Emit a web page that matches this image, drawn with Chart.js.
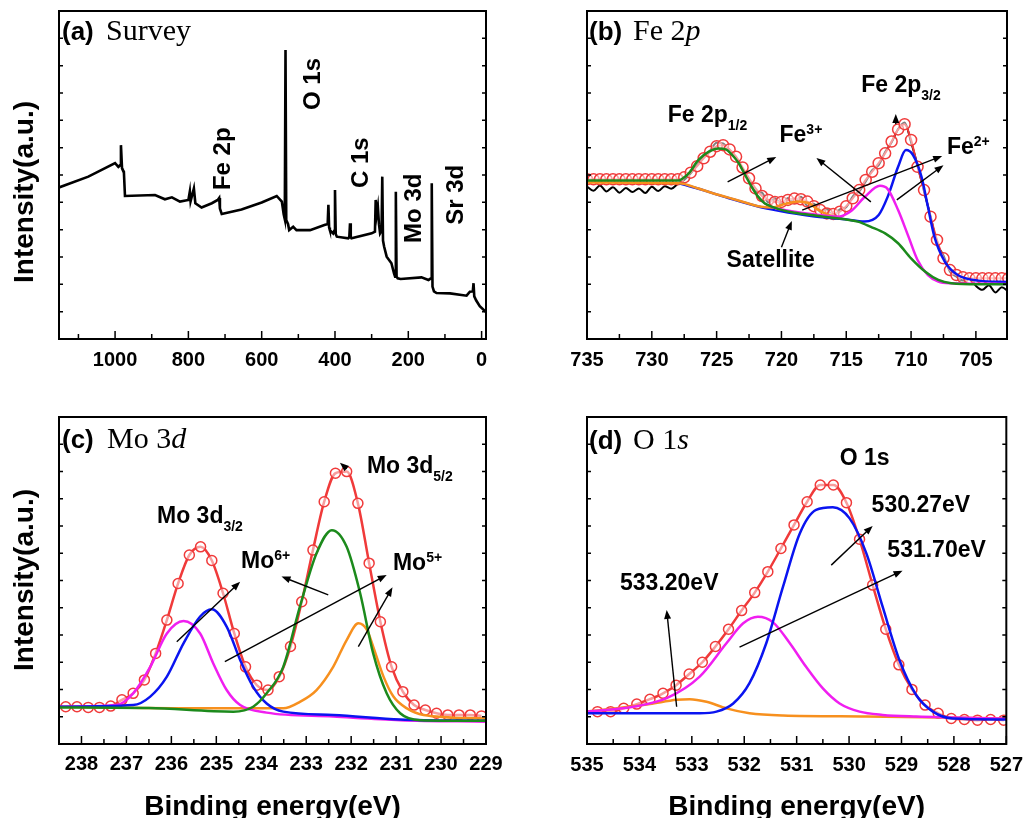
<!DOCTYPE html>
<html>
<head>
<meta charset="utf-8">
<script src="https://cdn.jsdelivr.net/npm/chart.js@4.4.0/dist/chart.umd.min.js"></script>
<style>
body { margin: 0; background: #fff; }
#wrap { position: relative; width: 1032px; height: 818px; overflow: hidden; background: #fff; }
canvas { position: absolute; }
</style>
</head>
<body>
<div id="wrap">
<canvas id="pa" width="516" height="400" style="left:0;top:0"></canvas>
<canvas id="pb" width="516" height="400" style="left:516px;top:0"></canvas>
<canvas id="pc" width="516" height="418" style="left:0;top:400px"></canvas>
<canvas id="pd" width="516" height="418" style="left:516px;top:400px"></canvas>
</div>
<script>
// (a) survey
const surveyBE = [1153,1073,1000,991,986,984,981,979,976,973,891,864,845,823,800,796,794,785,781,764,736,720,716,714,709,655,600,559,545,540,537,535,533,528,525,514,505,468,427,420,418,416,414,405,402,400,398,395,364,361,359,357,355,300,291,289,286,283,280,277,273,271,269,266,259,246,239,236,234,232,229,221,164,145,138,136,134,130,123,86,41,32,24,22,20,15,5,-12];
const surveyI = [46.2,49.5,53.6,52.5,53,59.1,52,51.5,51,43.6,43.9,42.6,43.2,41.9,42.4,45,42,45.9,41.4,40.1,41.4,42.4,43,39.8,38.1,39.5,41.6,43.6,41.9,38,36.5,88.1,36.3,35,33.2,34.2,33.2,33.2,34.8,35,40.9,34,33.2,32.2,33,45.4,32,31.2,30.7,31,35.3,31,30.7,32.2,32.7,42.4,38,40.3,35,32.2,33,49.5,30,28.2,25.1,23.1,20,19,44.9,19,18.5,18.3,18.8,18,18.5,47.5,16,14.5,14,13.9,13.2,14.4,14.5,17,13,11.8,10,8.2];

// (b) Fe 2p
const feBE = [735,734.5,734,733.5,733,732.5,732,731.5,731,730.5,730,729.5,729,728.5,728,727.5,727,726.5,726,725.5,725,724.5,724,723.5,723,722.5,722,721.5,721,720.5,720,719.5,719,718.5,718,717.5,717,716.5,716,715.5,715,714.5,714,713.5,713,712.5,712,711.5,711,710.5,710,709.5,709,708.5,708,707.5,707,706.5,706,705.5,705,704.5,704,703.5,703,702.5];
const feFit = [48.7,48.7,48.7,48.7,48.7,48.7,48.7,48.7,48.7,48.7,48.7,48.7,48.7,48.7,48.7,49.3,50.7,52.7,55.1,57.1,58.8,59.1,57.8,55.6,52.3,49,45.9,43.6,42.4,41.8,41.8,42.4,42.8,42.6,41.9,40.5,39.3,38.3,38.1,38.8,40.5,42.9,45.4,48.5,51,53.6,56.6,60.2,63.9,65.5,60.7,52.5,45.4,37.3,30.2,24.6,21,19.5,18.8,18.5,18.5,18.5,18.5,18.5,18.5,18.5];
const feRaw = [46.5,45.2,46.8,45,46.3,44.6,46,44.8,45.9,44.5,46.4,45.1,46.6,45.8,47.3,48.5,50.5,53,55.5,57.5,59.8,59.6,57,55,51.5,48.5,45,44.6,41.6,42.9,41,43,41.5,43.4,40.6,41.2,38.8,39.6,37.2,39.5,40.2,43.5,45,48,51.5,53,57,60,64,66,60,53,45,37.5,29,25.5,20.5,19,17.8,18.5,16.2,15,16.4,14.2,15.8,14.5];
const feGreenBE = [735,727.9,727.7,727.15,726.4,725.6,724.85,724.3,723.8,723.3,722.8,722.3,721.8,721.3,720.7,720.2,719,717.7,716.4,715.1,714.1,713.1,712,711,710,708.9,707.9,706.9,704.8,702.6];
const feGreenI = [48.3,48.3,48.7,50.5,54.6,57.1,58.1,57.8,56.1,53.6,50,46.4,43.4,41.4,40.3,39.6,38.5,37.8,37.1,36.5,35.8,34.2,32.2,29.2,24.6,20.5,18,17,16.7,16.7];
const feOrangeBE = [735,727.9,726.4,725.4,724.1,722.8,721.8,720.7,719.7,718.7,717.9,717.2,716.4,715.6];
const feOrangeI = [47.7,47.5,45.9,44.6,43.1,41.6,40.5,40.1,41.2,41.9,41.4,39.5,37.8,37];
const feBlueBE = [727.9,726.4,724.1,721.8,720.2,717.7,715.1,713.6,712.5,711.8,711,710.4,709.85,709.2,708.7,708.2,707.4,706.4,704.8,702.6];
const feBlueI = [47.5,45.8,43,40.4,39.1,37.5,36.5,35.8,37.8,43.4,52.5,57.6,56.1,49.5,40.3,31.2,23.6,19.5,17.8,17.4];
const feMagBE = [720.5,717.7,715.6,714.6,713.6,712.4,711.8,711,710.2,709.5,708.7,707.9,706.9,702.6];
const feMagI = [39.8,38.1,37.3,39.1,43.2,46.7,45.7,39.3,31.2,24.1,19.5,17.5,17,16.8];

// (c) Mo 3d
const moBE = [238.35,238.1,237.85,237.6,237.35,237.1,236.85,236.6,236.35,236.1,235.85,235.6,235.35,235.1,234.85,234.6,234.35,234.1,233.85,233.6,233.35,233.1,232.85,232.6,232.35,232.1,231.85,231.6,231.35,231.1,230.85,230.6,230.35,230.1,229.85,229.6,229.35,229.1];
const moData = [11.4,11.4,11.2,11.2,11.6,13.5,15.5,19.6,27.7,37.9,49.1,57.8,60.3,56.1,46.1,33.8,23.6,18,16.5,20.6,29.8,43.5,59.3,74.1,82.8,83.3,73.6,55.3,37.4,23.6,16,11.9,10.4,9.4,8.9,8.9,8.9,8.6];
const moMagBE = [238.5,237.22,236.85,236.47,236.1,235.73,235.36,235.07,234.77,234.47,233.88,232.4,230.91,229];
const moMagI = [11.4,11.9,15.5,23.6,33.8,37.6,33.8,24.7,16.5,11.9,9.6,8.4,7.3,6.8];
const moBlueBE = [238.5,236.85,236.47,236.1,235.73,235.36,235.1,234.77,234.47,234.18,233.88,233.51,232.4,230.91,229];
const moBlueI = [11.4,11.9,14.5,20.6,30.8,39,41.2,35.9,25.7,17.5,12.4,9.9,8.9,7.5,7.1];
const moGreenBE = [238.5,236.5,234.62,234.18,233.88,233.51,233.14,232.77,232.43,232.1,231.8,231.51,231.21,230.91,230.47,229];
const moGreenI = [11.2,11,9.9,11.4,15.5,23.6,42,58.3,65.4,60.3,46.1,27.7,15.5,9.4,7.3,7.1];
const moOrangeBE = [238.5,235,233.51,233.14,232.77,232.4,232.1,231.84,231.65,231.51,231.28,231.06,230.76,230.39,229];
const moOrangeI = [11.4,10.9,10.9,12.9,16.5,23.6,31.8,36.9,34.9,29.8,20.6,14.5,10.9,8.9,7.8];

// (d) O 1s
const oBE = [534.8,534.55,534.3,534.05,533.8,533.55,533.3,533.05,532.8,532.55,532.3,532.05,531.8,531.55,531.3,531.05,530.8,530.55,530.3,530.05,529.8,529.55,529.3,529.05,528.8,528.55,528.3,528.05,527.8,527.55,527.3,527.05];
const oData = [9.9,9.9,10.9,12.2,13.7,15.5,18,21.4,25,29.8,35.1,40.8,46.3,52.7,59.8,67,74.1,79.2,79.2,73.8,62.6,48.6,35.1,24.2,16.7,11.9,9.4,7.8,7.5,7.3,7.5,7.3];
const oBlueBE = [535,532.85,532.53,532.21,531.9,531.58,531.26,530.94,530.63,530.31,529.99,529.67,529.36,529.04,528.72,528.4,528.02,527];
const oBlueI = [9.4,9.4,9.9,12.4,18.6,30.8,48.1,64.4,71.6,72.4,69,58.3,42,25.7,15,9.9,7.8,7.5];
const oMagBE = [535,534.12,533.48,532.85,532.34,532.02,531.74,531.45,531.13,530.82,530.5,530.18,529.8,529.36,528.72,527];
const oMagI = [9.9,11.4,14,20.6,30.8,36.9,38.9,37.2,30.8,23.6,17,12.4,9.9,8.9,8.4,7.8];
const oOrangeBE = [535,534.43,533.8,533.29,533.04,532.72,532.34,531.9,531.26,529.67,527];
const oOrangeI = [9.9,10.9,12.2,13.5,13.7,12.9,10.9,9.4,8.7,8.4,7.8];

const SANS = '"Liberation Sans", Arial, sans-serif';
const SERIF = '"Liberation Serif", "Times New Roman", serif';
Chart.defaults.font.family = SANS;

const RED = '#f03a3a', BLUE = '#0a14f0', MAG = '#f01ef0', GREEN = '#1c8a1c', ORANGE = '#f7901e';

const pts = (xs, ys) => xs.map((v, i) => ({ x: v, y: ys[i] }));

function curve(xs, ys, color, order, width) {
  return {
    data: pts(xs, ys), borderColor: color, borderWidth: width || 2.5,
    pointRadius: 0, cubicInterpolationMode: 'monotone', order: order
  };
}

function circles(xs, ys, order, r) {
  return {
    data: pts(xs, ys), showLine: false, pointRadius: r || 5, pointBorderWidth: 1.5,
    borderColor: RED, backgroundColor: 'rgba(255,255,255,0.5)', order: order
  };
}

function arrow(ctx, x1, y1, x2, y2) {
  const a = Math.atan2(y2 - y1, x2 - x1), c = Math.cos(a), s = Math.sin(a);
  ctx.beginPath();
  ctx.moveTo(x1, y1);
  ctx.lineTo(x2 - 6 * c, y2 - 6 * s);
  ctx.stroke();
  ctx.beginPath();
  ctx.moveTo(x2, y2);
  ctx.lineTo(x2 - 9 * c + 3.5 * s, y2 - 9 * s - 3.5 * c);
  ctx.lineTo(x2 - 9 * c - 3.5 * s, y2 - 9 * s + 3.5 * c);
  ctx.closePath();
  ctx.fill();
}

const titleFonts = { b: 'bold 26px ' + SANS, r: '30px ' + SERIF, i: 'italic 30px ' + SERIF };

const decor = {
  id: 'decor',
  afterDatasetsDraw(chart, args, o) {
    const { ctx, chartArea: a } = chart;
    const xs = chart.scales.x, ys = chart.scales.y;
    const X = v => xs.getPixelForValue(v), Y = v => ys.getPixelForValue(v);
    ctx.save();
    ctx.strokeStyle = '#000';
    ctx.fillStyle = '#000';

    // inward ticks
    ctx.lineWidth = 1.5;
    ctx.beginPath();
    xs.ticks.forEach(t => {
      const px = X(t.value);
      ctx.moveTo(px, a.bottom);
      ctx.lineTo(px, a.bottom - (t.label ? 8 : 5));
    });
    ys.ticks.forEach(t => {
      if (t.value <= 0 || t.value >= 100) return;
      const py = Y(t.value);
      ctx.moveTo(a.left, py); ctx.lineTo(a.left + 4, py);
      ctx.moveTo(a.right, py); ctx.lineTo(a.right - 4, py);
    });
    ctx.stroke();
    ctx.lineWidth = 2;
    ctx.strokeRect(a.left, a.top, a.right - a.left, a.bottom - a.top);

    // panel title
    ctx.textBaseline = 'alphabetic';
    ctx.textAlign = 'left';
    let cx = 0;
    o.title.parts.forEach(p => {
      ctx.font = titleFonts[p[1]];
      if (p[2] !== undefined) cx = p[2];
      ctx.fillText(p[0], cx, o.title.y);
      cx += ctx.measureText(p[0]).width;
    });

    // axis titles
    ctx.font = 'bold 28px ' + SANS;
    if (o.ytitle) {
      ctx.save();
      ctx.translate(o.ytitle[0], o.ytitle[1]);
      ctx.rotate(-Math.PI / 2);
      ctx.textAlign = 'center';
      ctx.fillText('Intensity(a.u.)', 0, 0);
      ctx.restore();
    }
    if (o.xtitle) {
      ctx.textAlign = 'center';
      ctx.fillText('Binding energy(eV)', (a.left + a.right) / 2, o.xtitle);
      ctx.textAlign = 'left';
    }

    // rotated peak labels
    ctx.font = 'bold 24px ' + SANS;
    (o.rot || []).forEach(r => {
      ctx.save();
      ctx.translate(X(r[1]), Y(r[2]));
      ctx.rotate(-Math.PI / 2);
      ctx.fillText(r[0], 0, 0);
      ctx.restore();
    });

    // labels with sub / superscripts
    (o.labels || []).forEach(l => {
      let lx = X(l.x);
      const ly = Y(l.y);
      l.parts.forEach(p => {
        ctx.font = p[1] ? 'bold 14px ' + SANS : 'bold 23px ' + SANS;
        const dy = p[1] === 1 ? 8 : p[1] === 2 ? -8 : 0;
        ctx.fillText(p[0], lx, ly + dy);
        lx += ctx.measureText(p[0]).width;
      });
    });

    ctx.lineWidth = 1.4;
    (o.arrows || []).forEach(r => arrow(ctx, X(r[0]), Y(r[1]), X(r[2]), Y(r[3])));
    ctx.restore();
  }
};

function isMajor(v, major) {
  const q = v / major;
  return Math.abs(q - Math.round(q)) < 1e-6;
}

function makePanel(id, p) {
  return new Chart(document.getElementById(id), {
    type: 'line',
    data: { datasets: p.datasets },
    options: {
      responsive: false,
      animation: false,
      devicePixelRatio: 1,
      events: [],
      layout: { padding: { top: p.top, right: p.right, left: 0, bottom: 0 } },
      plugins: { legend: { display: false }, tooltip: { enabled: false }, decor: p.decor },
      scales: {
        x: {
          type: 'linear', reverse: true, min: p.xmin, max: p.xmax,
          grid: { display: false, drawTicks: false }, border: { display: false },
          ticks: {
            stepSize: p.step, autoSkip: false, maxRotation: 0, includeBounds: false,
            padding: p.tpad, color: '#000', font: { size: 20, weight: 'bold' },
            callback: v => isMajor(v, p.major) ? String(v) : ''
          },
          afterFit: s => { s.height = p.xh; }
        },
        y: {
          min: 0, max: 100,
          grid: { display: false, drawTicks: false }, border: { display: false },
          ticks: { display: false, stepSize: 100 / 12 },
          afterFit: s => { s.width = p.yw; }
        }
      }
    },
    plugins: [decor]
  });
}

makePanel('pa', {
  xmin: -12, xmax: 1153, step: 100, major: 200, top: 11, right: 30, xh: 61, yw: 59, tpad: 9,
  datasets: [{ data: pts(surveyBE, surveyI), borderColor: '#000', borderWidth: 2.6, pointRadius: 0, tension: 0 }],
  decor: {
    title: { y: 40, parts: [['(a)', 'b', 62], ['Survey', 'r', 106]] },
    ytitle: [33, 192],
    rot: [['Fe 2p', 686.4, 45.4], ['O 1s', 440.9, 69.8], ['C 1s', 310, 46], ['Mo 3d', 165.5, 29.3], ['Sr 3d', 50.9, 34.8]]
  }
});

makePanel('pb', {
  xmin: 702.6, xmax: 735, step: 2.5, major: 5, top: 11, right: 25, xh: 61, yw: 71, tpad: 9,
  datasets: [
    curve(feBE, feRaw, '#000', 9, 2),
    curve(feBE, feFit, RED, 8, 2),
    circles(feBE, feFit, 7, 5.5),
    curve(feBlueBE, feBlueI, BLUE, 4),
    curve(feOrangeBE, feOrangeI, ORANGE, 3),
    curve(feMagBE, feMagI, MAG, 2),
    curve(feGreenBE, feGreenI, GREEN, 1)
  ],
  decor: {
    title: { y: 40, parts: [['(b)', 'b', 73], ['Fe 2', 'r', 117], ['p', 'i']] },
    labels: [
      { x: 728.77, y: 66.2, parts: [['Fe 2p', 0], ['1/2', 1]] },
      { x: 720.15, y: 60.1, parts: [['Fe', 0], ['3+', 2]] },
      { x: 713.85, y: 75.3, parts: [['Fe 2p', 0], ['3/2', 1]] },
      { x: 707.23, y: 56.4, parts: [['Fe', 0], ['2+', 2]] },
      { x: 724.23, y: 22, parts: [['Satellite', 0]] }
    ],
    arrows: [[724.15, 47.9, 720.4, 55.5], [713.1, 41.8, 717.3, 55.2], [718.4, 39.3, 707.6, 55.8],
             [711.1, 42.4, 707.5, 53], [720, 28, 719.2, 36], [711.18, 65.5, 711.18, 68.6]]
  }
});

makePanel('pc', {
  xmin: 229, xmax: 238.5, step: 0.5, major: 1, top: 17, right: 30, xh: 74, yw: 59, tpad: 8,
  datasets: [
    curve(moBE, moData, RED, 6, 2.5),
    circles(moBE, moData, 5),
    curve(moOrangeBE, moOrangeI, ORANGE, 4),
    curve(moMagBE, moMagI, MAG, 3),
    curve(moBlueBE, moBlueI, BLUE, 2),
    curve(moGreenBE, moGreenI, GREEN, 1)
  ],
  decor: {
    title: { y: 48, parts: [['(c)', 'b', 62], ['Mo 3', 'r', 107], ['d', 'i']] },
    ytitle: [33, 180],
    xtitle: 415,
    labels: [
      { x: 231.65, y: 82.9, parts: [['Mo 3d', 0], ['5/2', 1]] },
      { x: 236.32, y: 67.6, parts: [['Mo 3d', 0], ['3/2', 1]] },
      { x: 234.45, y: 53.8, parts: [['Mo', 0], ['6+', 2]] },
      { x: 231.07, y: 53.2, parts: [['Mo', 0], ['5+', 2]] }
    ],
    arrows: [[235.88, 31.3, 234.47, 49.6], [232.51, 45.6, 233.55, 51.2], [234.81, 25.2, 231.21, 51.7],
             [231.84, 29.8, 231.08, 47.9], [232.1, 84.2, 232.25, 86]]
  }
});

makePanel('pd', {
  xmin: 527, xmax: 535, step: 0.5, major: 1, top: 17, right: 25, xh: 74, yw: 71, tpad: 9,
  datasets: [
    curve(oBE, oData, RED, 6, 2.5),
    circles(oBE, oData, 5),
    curve(oOrangeBE, oOrangeI, ORANGE, 3),
    curve(oMagBE, oMagI, MAG, 2),
    curve(oBlueBE, oBlueI, BLUE, 1)
  ],
  decor: {
    title: { y: 49, parts: [['(d)', 'b', 73], ['O 1', 'r', 117], ['s', 'i']] },
    xtitle: 415,
    labels: [
      { x: 530.18, y: 85.3, parts: [['O 1s', 0]] },
      { x: 529.57, y: 70.9, parts: [['530.27eV', 0]] },
      { x: 529.27, y: 57.2, parts: [['531.70eV', 0]] },
      { x: 534.37, y: 47.1, parts: [['533.20eV', 0]] }
    ],
    arrows: [[533.29, 11.4, 533.48, 41], [532.09, 29.6, 528.98, 53], [530.34, 54.7, 529.55, 66.7]]
  }
});
</script>
</body>
</html>
